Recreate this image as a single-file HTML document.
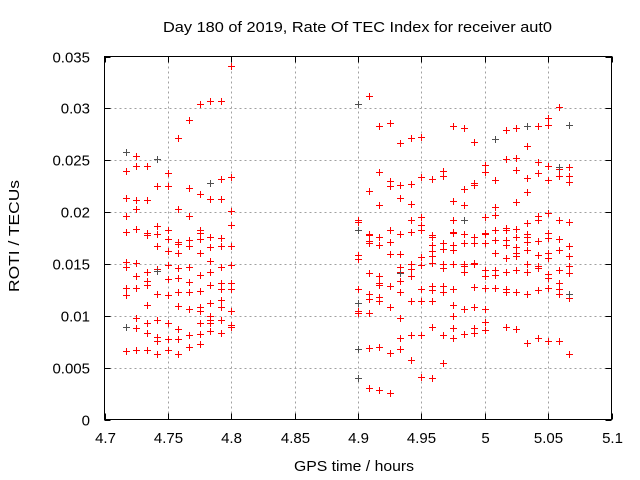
<!DOCTYPE html>
<html><head><meta charset="utf-8"><style>
html,body{margin:0;padding:0;background:#fff;}
svg{display:block;font-family:"Liberation Sans",sans-serif;}
</style></head><body>
<svg id="chart" width="640" height="480" viewBox="0 0 640 480">
<rect width="640" height="480" fill="#fff"/>
<g id="grid"></g>
<g id="marks"></g>
<rect x="104.5" y="56.5" width="507" height="363" fill="none" stroke="#000" stroke-width="1"/>
<g id="ticks"></g>
<text x="163" y="32" font-size="15" fill="#000" textLength="389" lengthAdjust="spacingAndGlyphs">Day 180 of 2019, Rate Of TEC Index for receiver aut0</text>
<text x="294" y="471" font-size="15" fill="#000" textLength="120" lengthAdjust="spacingAndGlyphs">GPS time / hours</text>
<text x="0" y="0" font-size="15" fill="#000" textLength="112" lengthAdjust="spacingAndGlyphs" transform="translate(19 292) rotate(-90)">ROTI / TECUs</text>
</svg>
<script>
const xTicks = [4.7,4.75,4.8,4.85,4.9,4.95,5,5.05,5.1];
const xTickLabels = ["4.7","4.75","4.8","4.85","4.9","4.95","5","5.05","5.1"];
const yTicks = [0,0.005,0.01,0.015,0.02,0.025,0.03,0.035];
const yTickLabels = ["0","0.005","0.01","0.015","0.02","0.025","0.03","0.035"];
const times = [4.7167,4.725,4.7333,4.7417,4.75,4.7583,4.7667,4.775,4.7833,4.7917,4.8,
 4.9,4.9083,4.9167,4.925,4.9333,4.9417,4.95,4.9583,4.9667,4.975,4.9833,4.9917,5.0,5.0083,5.0167,5.025,5.0333,5.0417,5.05,5.0583,5.0667];
const rotiByTime = [
 [0.0258,0.0240,0.0214,0.0196,0.0181,0.0152,0.0147,0.0127,0.0120,0.0089,0.0066],
 [0.0254,0.0244,0.0212,0.0203,0.0184,0.0151,0.0138,0.0127,0.0098,0.0088,0.0067],
 [0.0244,0.0212,0.0180,0.0178,0.0142,0.0134,0.0130,0.0110,0.0093,0.0083,0.0067],
 [0.0251,0.0225,0.0187,0.0179,0.0167,0.0145,0.0143,0.0121,0.0096,0.0080,0.0076,0.0063],
 [0.0238,0.0225,0.0183,0.0174,0.0162,0.0149,0.0135,0.0120,0.0093,0.0078,0.0067],
 [0.0271,0.0203,0.0171,0.0169,0.0161,0.0146,0.0136,0.0123,0.0109,0.0087,0.0078,0.0063],
 [0.0289,0.0223,0.0196,0.0173,0.0167,0.0147,0.0133,0.0123,0.0107,0.0081,0.0070],
 [0.0304,0.0217,0.0183,0.0180,0.0174,0.0161,0.0139,0.0124,0.0108,0.0105,0.0093,0.0082,0.0073],
 [0.0307,0.0228,0.0213,0.0176,0.0166,0.0153,0.0142,0.0130,0.0112,0.0100,0.0096,0.0093,0.0085],
 [0.0307,0.0232,0.0213,0.0175,0.0167,0.0147,0.0132,0.0126,0.0115,0.0108,0.0096,0.0083],
 [0.0341,0.0234,0.0201,0.0188,0.0167,0.0149,0.0132,0.0126,0.0105,0.0091,0.0089],
 [0.0304,0.0192,0.0190,0.0183,0.0159,0.0155,0.0126,0.0112,0.0105,0.0103,0.0068,0.0040],
 [0.0312,0.0220,0.0179,0.0178,0.0172,0.0170,0.0141,0.0121,0.0116,0.0103,0.0069,0.0030],
 [0.0283,0.0239,0.0207,0.0176,0.0168,0.0138,0.0132,0.0130,0.0118,0.0114,0.0070,0.0028],
 [0.0286,0.0230,0.0225,0.0183,0.0171,0.0160,0.0129,0.0108,0.0064,0.0026],
 [0.0267,0.0226,0.0214,0.0179,0.0160,0.0147,0.0142,0.0134,0.0123,0.0098,0.0079,0.0068],
 [0.0271,0.0227,0.0208,0.0192,0.0181,0.0150,0.0145,0.0138,0.0114,0.0081,0.0057],
 [0.0272,0.0234,0.0195,0.0188,0.0183,0.0157,0.0149,0.0126,0.0114,0.0081,0.0041],
 [0.0232,0.0178,0.0176,0.0168,0.0162,0.0158,0.0151,0.0129,0.0125,0.0114,0.0089,0.0040],
 [0.0240,0.0235,0.0170,0.0164,0.0150,0.0146,0.0129,0.0123,0.0081,0.0054],
 [0.0283,0.0211,0.0192,0.0181,0.0180,0.0168,0.0163,0.0150,0.0126,0.0110,0.0100,0.0088,0.0079],
 [0.0281,0.0222,0.0207,0.0179,0.0170,0.0150,0.0148,0.0142,0.0107,0.0082],
 [0.0268,0.0228,0.0226,0.0176,0.0170,0.0151,0.0150,0.0128,0.0108,0.0088,0.0083],
 [0.0245,0.0239,0.0195,0.0180,0.0179,0.0170,0.0144,0.0138,0.0127,0.0107,0.0094,0.0086],
 [0.0270,0.0231,0.0205,0.0197,0.0183,0.0173,0.0161,0.0144,0.0139,0.0127],
 [0.0279,0.0251,0.0185,0.0183,0.0173,0.0168,0.0156,0.0142,0.0126,0.0123,0.0089],
 [0.0281,0.0252,0.0241,0.0210,0.0184,0.0176,0.0166,0.0161,0.0158,0.0144,0.0123,0.0087],
 [0.0283,0.0264,0.0233,0.0219,0.0189,0.0179,0.0176,0.0171,0.0163,0.0150,0.0142,0.0121,0.0074],
 [0.0283,0.0248,0.0238,0.0196,0.0192,0.0172,0.0159,0.0148,0.0146,0.0125,0.0079],
 [0.0291,0.0284,0.0244,0.0231,0.0199,0.0180,0.0175,0.0161,0.0156,0.0140,0.0136,0.0127,0.0076],
 [0.0301,0.0242,0.0235,0.0192,0.0174,0.0163,0.0144,0.0132,0.0126,0.0121,0.0076],
 [0.0284,0.0243,0.0235,0.0229,0.0190,0.0167,0.0158,0.0148,0.0141,0.0121,0.0117,0.0063]
];
const greyTimes = [4.7167,4.7167,4.7417,4.7417,4.7833,4.9,4.9,4.9,4.9,4.9,4.9333,4.9833,5.0083,5.0333,5.0583,5.0667,5.0667];
const greyVals  = [0.0258,0.0089,0.0251,0.0143,0.0228,0.0304,0.0183,0.0112,0.0068,0.0040,0.0141,0.0192,0.0270,0.0283,0.0243,0.0284,0.0121];

const X0=104.5, X1=611.5, Y0=419.5, Y1=56.5;
const xMin=4.7, xMax=5.1, yMin=0, yMax=0.035;
function sx(v){return X0+(v-xMin)/(xMax-xMin)*(X1-X0);}
function sy(v){return Y0-(v-yMin)/(yMax-yMin)*(Y0-Y1);}
const NS="http://www.w3.org/2000/svg";
const grid=document.getElementById('grid'), ticks=document.getElementById('ticks'), marks=document.getElementById('marks');
function mk(tag,attrs,parent){const e=document.createElementNS(NS,tag);for(const k in attrs)e.setAttribute(k,attrs[k]);parent.appendChild(e);return e;}
xTicks.forEach((t,i)=>{
  const x=Math.round(sx(t))+0.5;
  if(i>0&&i<xTicks.length-1){
    const g=mk('line',{x1:x,x2:x,y1:Y1,y2:Y0,stroke:'#a0a0a0','stroke-dasharray':'2,3'},grid);
    
    
  }
  const a=mk('line',{x1:x,x2:x,y1:Y0,y2:Y0-6,stroke:'#000'},ticks);
  
  
  const b=mk('line',{x1:x,x2:x,y1:Y1,y2:Y1+6,stroke:'#000'},ticks);
  
  
  const l=mk('text',{x:x,y:443,'text-anchor':'middle','font-size':'15',fill:'#000'},ticks);
  l.textContent=xTickLabels[i];
  
  
});
yTicks.forEach((t,i)=>{
  const y=Math.round(sy(t))+0.5;
  if(i>0&&i<yTicks.length-1){
    const g=mk('line',{x1:X0,x2:X1,y1:y,y2:y,stroke:'#a0a0a0','stroke-dasharray':'2,3'},grid);
    
    
  }
  const a=mk('line',{x1:X0,x2:X0+6,y1:y,y2:y,stroke:'#000'},ticks);
  
  
  const b=mk('line',{x1:X1,x2:X1-6,y1:y,y2:y,stroke:'#000'},ticks);
  
  
  const l=mk('text',{x:90,y:y+5,'text-anchor':'end','font-size':'15',fill:'#000'},ticks);
  l.textContent=yTickLabels[i];
  
  
});
function plus(t,v,color,name){
  const x=Math.round(sx(t))+0.5, y=Math.round(sy(v))+0.5;
  const p=mk('path',{d:`M${x-3.5},${y}H${x+3.5}M${x},${y-3.5}V${y+3.5}`,stroke:color,'stroke-width':'1',fill:'none'},marks);
  
  
}
times.forEach((t,i)=>{rotiByTime[i].forEach(v=>plus(t,v,'#ff0000','roti-point'));});
greyTimes.forEach((t,i)=>plus(t,greyVals[i],'#505050','roti-point-grey'));
</script>
</body></html>
